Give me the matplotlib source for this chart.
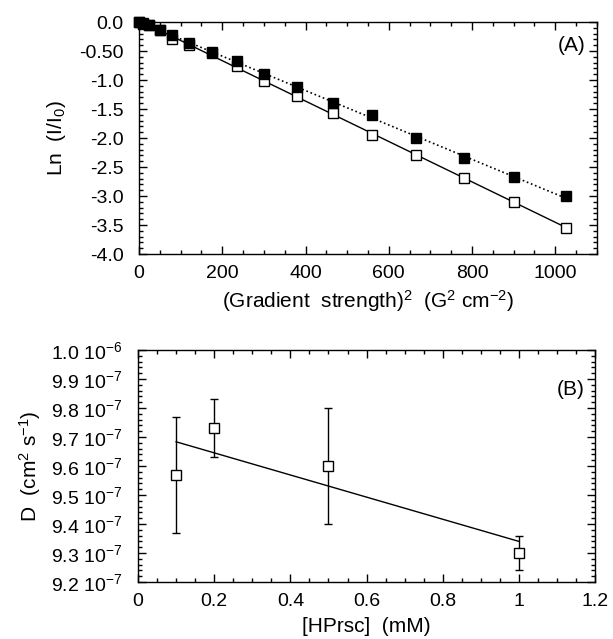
import numpy as np
import matplotlib
matplotlib.use("Agg")
import matplotlib.pyplot as plt
from matplotlib.ticker import MultipleLocator, FixedLocator, FixedFormatter

plt.rcParams['font.family'] = ['Liberation Sans', 'DejaVu Sans']
plt.rcParams['mathtext.fontset'] = 'custom'
plt.rcParams['mathtext.rm'] = 'Liberation Sans'
plt.rcParams['mathtext.it'] = 'Liberation Sans'

# панель A
g2 = [0, 10, 25, 50, 80, 120, 175, 235, 300, 380, 465, 560, 665, 780, 900, 1025]
ln_open = [0, -0.02, -0.05, -0.14, -0.29, -0.39, -0.53, -0.76, -1.01, -1.28,
           -1.56, -1.95, -2.30, -2.69, -3.10, -3.55]
ln_fill = [0, -0.03, -0.05, -0.14, -0.23, -0.36, -0.52, -0.67, -0.90, -1.12,
           -1.40, -1.60, -2.00, -2.34, -2.68, -3.00]
a_yticks = [0.0, -0.5, -1.0, -1.5, -2.0, -2.5, -3.0, -3.5, -4.0]
a_ylabels = ["0.0", "-0.50", "-1.0", "-1.5", "-2.0", "-2.5", "-3.0", "-3.5", "-4.0"]

# панель B
conc = [0.1, 0.2, 0.5, 1.0]
D = [9.57e-7, 9.73e-7, 9.60e-7, 9.30e-7]
D_err = [0.20e-7, 0.10e-7, 0.20e-7, 0.06e-7]
b_yticks = [9.2e-7, 9.3e-7, 9.4e-7, 9.5e-7, 9.6e-7, 9.7e-7, 9.8e-7, 9.9e-7, 1.0e-6]
b_ylabels = ["9.2 10$^{-7}$", "9.3 10$^{-7}$", "9.4 10$^{-7}$", "9.5 10$^{-7}$",
             "9.6 10$^{-7}$", "9.7 10$^{-7}$", "9.8 10$^{-7}$", "9.9 10$^{-7}$",
             "1.0 10$^{-6}$"]

fig = plt.figure(figsize=(6.13, 6.39), dpi=100)
axA = fig.add_axes([0.2268, 0.6025, 0.747, 0.363])
axB = fig.add_axes([0.2252, 0.0892, 0.7455, 0.363])

def style(ax):
    ax.tick_params(which='both', direction='in', top=True, right=True,
                   labelsize=14, width=1)
    ax.tick_params(which='major', length=6)
    ax.tick_params(which='minor', length=3)
    ax.tick_params(axis='y', pad=11)
    ax.tick_params(axis='x', pad=8)
    for s in ax.spines.values():
        s.set_linewidth(1)

# A
p1 = np.polyfit(g2, ln_open, 1)
p2 = np.polyfit(g2, ln_fill, 1)
xx = np.array([0, 1025])
axA.plot(xx, np.polyval(p1, xx), 'k-', lw=1)
axA.plot(xx, np.polyval(p2, xx), 'k:', lw=1.2)
axA.plot(g2, ln_open, 's', mfc='white', mec='k', ms=7, mew=1, clip_on=False)
axA.plot(g2, ln_fill, 's', mfc='k', mec='k', ms=7.5, clip_on=False)
axA.set_xlim(0, 1100)
axA.set_ylim(-4.0, 0.0)
axA.xaxis.set_major_locator(MultipleLocator(200))
axA.xaxis.set_minor_locator(MultipleLocator(50))
axA.yaxis.set_major_locator(FixedLocator(a_yticks))
axA.yaxis.set_major_formatter(FixedFormatter(a_ylabels))
axA.yaxis.set_minor_locator(MultipleLocator(0.1))
style(axA)
axA.set_xlabel("(Gradient  strength)$^2$  (G$^2$ cm$^{-2}$)", fontsize=15, labelpad=4)
axA.set_ylabel("Ln  (I/I$_0$)", fontsize=15, labelpad=8)
axA.text(0.974, 0.9, "(A)", transform=axA.transAxes, ha='right', va='center', fontsize=15)

# B
pb = np.polyfit(conc, D, 1)
cx = np.array([0.1, 1.0])
axB.plot(cx, np.polyval(pb, cx), 'k-', lw=1)
axB.errorbar(conc, D, yerr=D_err, fmt='s', mfc='white', mec='k', ecolor='k',
             ms=6.5, mew=1, capsize=3, elinewidth=1, capthick=1)
axB.set_xlim(0, 1.2)
axB.set_ylim(9.2e-7, 1.0e-6)
axB.xaxis.set_minor_locator(MultipleLocator(0.05))
axB.set_xticks([0, 0.2, 0.4, 0.6, 0.8, 1.0, 1.2])
axB.set_xticklabels(["0", "0.2", "0.4", "0.6", "0.8", "1", "1.2"])
axB.yaxis.set_major_locator(FixedLocator(b_yticks))
axB.yaxis.set_major_formatter(FixedFormatter(b_ylabels))
axB.yaxis.set_minor_locator(MultipleLocator(0.02e-7))
style(axB)
axB.set_xlabel("[HPrsc]  (mM)", fontsize=15, labelpad=5)
axB.set_ylabel("D  (cm$^2$ s$^{-1}$)", fontsize=15, labelpad=6)
axB.text(0.978, 0.83, "(B)", transform=axB.transAxes, ha='right', va='center', fontsize=15)

fig.savefig("out.png", dpi=100)
